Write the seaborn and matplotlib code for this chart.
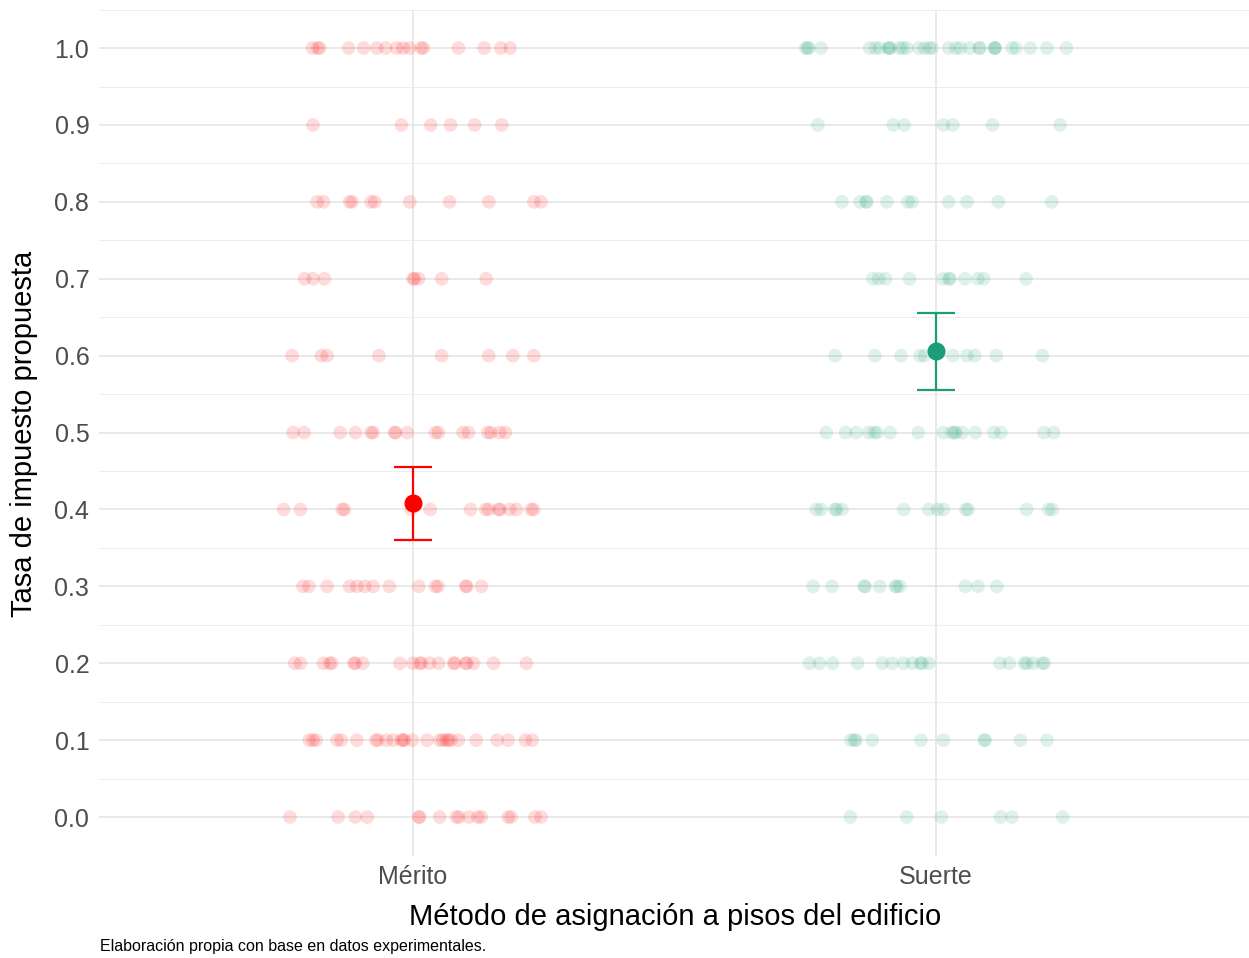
import numpy as np
import pandas as pd
import matplotlib
matplotlib.use("Agg")
import matplotlib.pyplot as plt
import seaborn as sns

categories = ["Mérito", "Suerte"]
rates = [1.0, 0.9, 0.8, 0.7, 0.6, 0.5, 0.4, 0.3, 0.2, 0.1, 0.0]

# horizontal jitter offsets (in category units) of each response, per tax rate
merito_jitter = [
    [-0.192, -0.182, -0.178, -0.123, -0.094, -0.069, -0.052, -0.031, -0.019, -0.006, 0.016, 0.020, 0.087, 0.136, 0.168, 0.186],
    [-0.191, -0.022, 0.034, 0.072, 0.118, 0.170],
    [-0.183, -0.171, -0.121, -0.116, -0.080, -0.073, -0.006, 0.070, 0.145, 0.231, 0.245],
    [-0.207, -0.191, -0.169, 0.000, 0.003, 0.011, 0.055, 0.140],
    [-0.231, -0.175, -0.164, -0.065, 0.055, 0.145, 0.191, 0.231],
    [-0.229, -0.208, -0.139, -0.110, -0.080, -0.076, -0.035, -0.033, -0.011, 0.043, 0.049, 0.096, 0.106, 0.143, 0.149, 0.166, 0.177],
    [-0.247, -0.215, -0.135, -0.131, -0.003, 0.033, 0.110, 0.139, 0.145, 0.164, 0.166, 0.185, 0.198, 0.226, 0.231],
    [-0.210, -0.199, -0.164, -0.121, -0.107, -0.092, -0.076, -0.045, 0.011, 0.043, 0.048, 0.101, 0.103, 0.131],
    [-0.226, -0.215, -0.171, -0.159, -0.155, -0.113, -0.110, -0.096, -0.025, 0.000, 0.013, 0.016, 0.032, 0.049, 0.078, 0.080, 0.101, 0.103, 0.116, 0.154, 0.217],
    [-0.198, -0.191, -0.185, -0.145, -0.137, -0.107, -0.071, -0.067, -0.051, -0.038, -0.022, -0.019, -0.016, -0.001, 0.027, 0.051, 0.057, 0.064, 0.068, 0.073, 0.087, 0.121, 0.161, 0.182, 0.215, 0.228],
    [-0.235, -0.143, -0.110, -0.087, 0.011, 0.013, 0.051, 0.083, 0.088, 0.107, 0.124, 0.131, 0.182, 0.188, 0.233, 0.245],
]
suerte_jitter = [
    [-0.249, -0.246, -0.243, -0.220, -0.127, -0.116, -0.108, -0.091, -0.090, -0.088, -0.070, -0.064, -0.056, -0.033, -0.022, -0.013, -0.008, 0.024, 0.038, 0.046, 0.064, 0.083, 0.083, 0.112, 0.112, 0.113, 0.145, 0.153, 0.180, 0.212, 0.249],
    [-0.226, -0.082, -0.061, 0.014, 0.032, 0.108, 0.237],
    [-0.180, -0.145, -0.134, -0.132, -0.094, -0.054, -0.046, 0.024, 0.059, 0.119, 0.221],
    [-0.121, -0.110, -0.097, -0.051, 0.013, 0.024, 0.027, 0.055, 0.080, 0.091, 0.172],
    [-0.193, -0.117, -0.067, -0.031, -0.022, 0.032, 0.059, 0.074, 0.115, 0.203],
    [-0.210, -0.173, -0.153, -0.129, -0.118, -0.113, -0.088, -0.034, 0.014, 0.030, 0.035, 0.038, 0.050, 0.075, 0.110, 0.124, 0.206, 0.225],
    [-0.229, -0.220, -0.194, -0.190, -0.180, -0.062, -0.014, 0.003, 0.014, 0.057, 0.061, 0.173, 0.215, 0.222],
    [-0.235, -0.199, -0.137, -0.136, -0.108, -0.078, -0.075, -0.069, 0.056, 0.080, 0.116],
    [-0.242, -0.223, -0.198, -0.150, -0.103, -0.084, -0.062, -0.045, -0.030, -0.027, -0.014, 0.122, 0.140, 0.169, 0.173, 0.185, 0.203, 0.207],
    [-0.163, -0.156, -0.153, -0.122, -0.029, 0.014, 0.092, 0.094, 0.161, 0.212],
    [-0.164, -0.056, 0.010, 0.123, 0.145, 0.242],
]

means = [0.408, 0.606]
ci_low = [0.360, 0.555]
ci_high = [0.455, 0.655]
colors = ["#FF0000", "#1B9E77"]

y_ticks = [0.0, 0.1, 0.2, 0.3, 0.4, 0.5, 0.6, 0.7, 0.8, 0.9, 1.0]
y_tick_labels = ["0.0", "0.1", "0.2", "0.3", "0.4", "0.5", "0.6", "0.7", "0.8", "0.9", "1.0"]

# build long table
rows = []
for ci, (cat, jit) in enumerate(zip(categories, [merito_jitter, suerte_jitter])):
    for rate, offs in zip(rates, jit):
        for o in offs:
            rows.append({"metodo": cat, "x": ci + o, "tasa": rate})
df = pd.DataFrame(rows)

sns.set_theme(style="white")
plt.rcParams["font.family"] = ["Liberation Sans", "DejaVu Sans"]

fig = plt.figure(figsize=(12.49, 9.58), dpi=100)
W, H = 1249, 958
left, right, top, bottom = 99, 1250, 9.6, 855.5
ax = fig.add_axes([left / W, (H - bottom) / H, (right - left) / W, (bottom - top) / H])

sns.scatterplot(data=df, x="x", y="tasa", hue="metodo", palette=dict(zip(categories, colors)),
                alpha=0.14, s=97, edgecolor="none", legend=False, ax=ax, zorder=3)

for i in range(2):
    ax.errorbar([i], [means[i]],
                yerr=[[means[i] - ci_low[i]], [ci_high[i] - means[i]]],
                fmt="o", color=colors[i], markersize=12, elinewidth=1.6,
                capsize=14, capthick=1.6, zorder=5)

ax.set_xlim(-0.6, 1.6)
ax.set_ylim(-0.05, 1.05)
ax.set_xticks([0, 1])
ax.set_xticklabels(categories)
ax.set_yticks(y_ticks)
ax.set_yticklabels(y_tick_labels)
ax.set_yticks(np.arange(-0.05, 1.06, 0.1), minor=True)

ax.grid(which="major", axis="both", color="#E3E3E3", linewidth=1.1, zorder=0)
ax.grid(which="minor", axis="y", color="#EDEDED", linewidth=0.7, zorder=0)
ax.set_axisbelow(True)
for s in ax.spines.values():
    s.set_visible(False)
ax.tick_params(axis="both", which="both", length=0)
ax.tick_params(axis="y", pad=7, labelsize=18, labelcolor="#4D4D4D")
ax.tick_params(axis="x", pad=6.5, labelsize=18, labelcolor="#4D4D4D")

ax.set_xlabel("Método de asignación a pisos del edificio", fontsize=21, color="black")
ax.set_ylabel("Tasa de impuesto propuesta", fontsize=21, color="black")
ax.xaxis.set_label_coords((675 - left) / (right - left), (bottom - 917) / (bottom - top))
ax.xaxis.label.set_va("center")
ax.yaxis.set_label_coords((24 - left) / (right - left), (bottom - 434) / (bottom - top))
ax.yaxis.label.set_va("center")

fig.text(100 / W, 1 - 946 / H, "Elaboración propia con base en datos experimentales.",
         fontsize=11.5, color="black", ha="left", va="center")

fig.savefig("out.png", dpi=100)
